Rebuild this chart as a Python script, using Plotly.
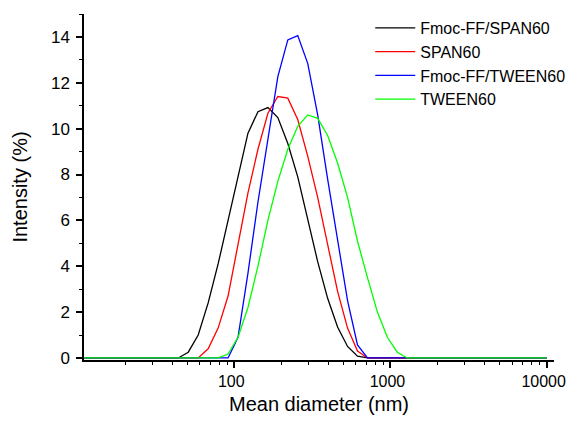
import plotly.graph_objects as go

# DLS size bins (nm)
sizes = [10.10, 11.70, 13.54, 15.69, 18.17, 21.04, 24.36, 28.21, 32.67, 37.84,
         43.82, 50.75, 58.77, 68.06, 78.82, 91.28, 105.7, 122.4, 141.8, 164.2,
         190.1, 220.2, 255.0, 295.3, 342.0, 396.1, 458.7, 531.2, 615.1, 712.4,
         825.0, 955.4, 1106, 1281, 1484, 1718, 1990, 2305, 2669, 3091,
         3580, 4145, 4801, 5560, 6439, 7456, 8635, 10000]

# Intensity (%) per bin
fmoc_span = [0, 0, 0, 0, 0, 0, 0, 0, 0, 0,
             0, 0.25, 1.0, 2.4, 4.1, 6.0, 7.9, 9.8, 10.74, 10.92,
             10.48, 9.35, 7.9, 6.0, 4.2, 2.6, 1.35, 0.5, 0.08, 0,
             0, 0, 0, 0, 0, 0, 0, 0, 0, 0,
             0, 0, 0, 0, 0, 0, 0, 0]
span = [0, 0, 0, 0, 0, 0, 0, 0, 0, 0,
        0, 0, 0, 0.4, 1.3, 2.7, 4.9, 7.2, 9.1, 10.67,
        11.4, 11.33, 10.4, 8.8, 7.0, 4.9, 2.9, 1.3, 0.3, 0,
        0, 0, 0, 0, 0, 0, 0, 0, 0, 0,
        0, 0, 0, 0, 0, 0, 0, 0]
fmoc_tween = [0, 0, 0, 0, 0, 0, 0, 0, 0, 0,
              0, 0, 0, 0, 0, 0, 0.9, 3.7, 6.8, 9.6,
              12.27, 13.87, 14.06, 12.85, 10.6, 7.8, 5.2, 2.5, 0.57, 0,
              0, 0, 0, 0, 0, 0, 0, 0, 0, 0,
              0, 0, 0, 0, 0, 0, 0, 0]
tween = [0, 0, 0, 0, 0, 0, 0, 0, 0, 0,
         0, 0, 0, 0, 0, 0.17, 0.9, 2.2, 4.0, 6.0,
         7.7, 9.1, 10.1, 10.6, 10.45, 9.7, 8.5, 7.0, 5.1, 3.5,
         2.0, 0.9, 0.25, 0, 0, 0, 0, 0, 0, 0,
         0, 0, 0, 0, 0, 0, 0, 0]

series = [
    ("Fmoc-FF/SPAN60", fmoc_span, "#000000"),
    ("SPAN60", span, "#ff0000"),
    ("Fmoc-FF/TWEEN60", fmoc_tween, "#0000ff"),
    ("TWEEN60", tween, "#00ff00"),
]

fig = go.Figure()
for name, vals, color in series:
    fig.add_trace(go.Scatter(x=sizes, y=vals, mode="lines", name=name,
                             line=dict(color=color, width=1.3)))

font_family = "Arial, Liberation Sans, sans-serif"

# page body has an 8px margin, so the figure is shrunk to fit the window
fig.update_layout(
    width=568, height=407,
    margin=dict(l=76, r=22, t=6, b=55, autoexpand=False),
    paper_bgcolor="white", plot_bgcolor="white",
    font=dict(family=font_family, size=17, color="black"),
    showlegend=True,
    legend=dict(x=0.609, y=1.009, xanchor="left", yanchor="top",
                bgcolor="rgba(0,0,0,0)", font=dict(size=16),
                tracegroupgap=0, itemwidth=40),
)

fig.update_xaxes(
    type="log", range=[1.038, 4.047], automargin=False,
    showline=True, linecolor="black", linewidth=1.5,
    showgrid=False, zeroline=False, ticklabeloverflow="allow",
    ticks="outside", ticklen=6, tickwidth=1.5, tickcolor="black",
    tickvals=[100, 1000, 10000], ticktext=["100", "1000", "10000"],
    tickfont=dict(size=16), ticklabelshift=-3,
    minor=dict(ticks="outside", ticklen=3, tickwidth=1.2, tickcolor="black",
               tickvals=[20, 30, 40, 50, 60, 70, 80, 90,
                         200, 300, 400, 500, 600, 700, 800, 900,
                         2000, 3000, 4000, 5000, 6000, 7000, 8000, 9000],
               showgrid=False),
    title=dict(text="Mean diameter (nm)", font=dict(size=20), standoff=10),
)

fig.update_yaxes(
    range=[-0.09, 15], automargin=False,
    showline=True, linecolor="black", linewidth=1.5,
    showgrid=False, zeroline=False,
    ticks="outside", ticklen=6, tickwidth=1.5, tickcolor="black",
    tick0=0, dtick=2, ticklabelstandoff=3,
    minor=dict(ticks="outside", ticklen=3, tickwidth=1.2, tickcolor="black",
               dtick=1, showgrid=False),
    title=dict(text="Intensity (%)", font=dict(size=20), standoff=18),
)

fig.write_html("out.html")
